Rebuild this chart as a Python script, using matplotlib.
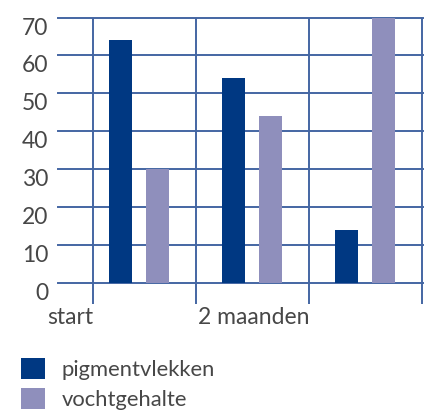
import numpy as np
import matplotlib
matplotlib.use("Agg")
import matplotlib.pyplot as plt

groups = ["start", "", "2 maanden"]
pigment = [64, 54, 14]
vocht = [30, 44, 70]
yticks = [0, 10, 20, 30, 40, 50, 60, 70]
series_names = ["pigmentvlekken", "vochtgehalte"]

dark = "#003882"
light = "#8f8fbc"
grid = "#4466a3"
textc = "#474747"

plt.rcParams["font.family"] = ["Lato", "DejaVu Sans"]

fig = plt.figure(figsize=(4.26, 4.15), dpi=100)
ax = fig.add_axes([58 / 426, 1 - 283 / 415, 364.5 / 426, 265.5 / 415])

x = np.arange(len(groups))
w = 0.204
off = 0.164
b1 = ax.bar(x - off, pigment, w, color=dark, zorder=3, label=series_names[0])
b2 = ax.bar(x + off, vocht, w, color=light, zorder=3, label=series_names[1])

ax.set_xlim(-0.717, 2.507)
ax.set_ylim(0, 70)

for yv in yticks:
    ax.axhline(yv, color=grid, lw=1.4, zorder=1, clip_on=False)
vlines = [-0.407, 0.5, 1.504, 2.5]
ax.vlines(vlines, -5.5, 70, color=grid, lw=1.4, zorder=1, clip_on=False)

for s in ax.spines.values():
    s.set_visible(False)

fs = 16.5
ax.set_yticks(yticks)
ax.set_yticklabels([str(v) for v in yticks], fontsize=fs, color=textc)
for lbl in ax.get_yticklabels():
    lbl.set_va("top")
ax.tick_params(axis="y", length=0, pad=7)
ax.set_xticks([])

ax.text(-0.407, -6.3, "start", ha="right", va="top", fontsize=fs, color=textc)
ax.text(1.504, -6.3, "2 maanden", ha="right", va="top", fontsize=fs, color=textc)

lfs = 15.8
leg = fig.legend(handles=[b1, b2], loc="upper left", bbox_to_anchor=(21 / 426, 1 - 358 / 415),
                 frameon=False, handlelength=1.1, handleheight=1.1,
                 handletextpad=0.75, labelspacing=0.38, borderpad=0, borderaxespad=0,
                 prop={"size": lfs})
for t in leg.get_texts():
    t.set_color(textc)

fig.savefig("out.png", dpi=100)
